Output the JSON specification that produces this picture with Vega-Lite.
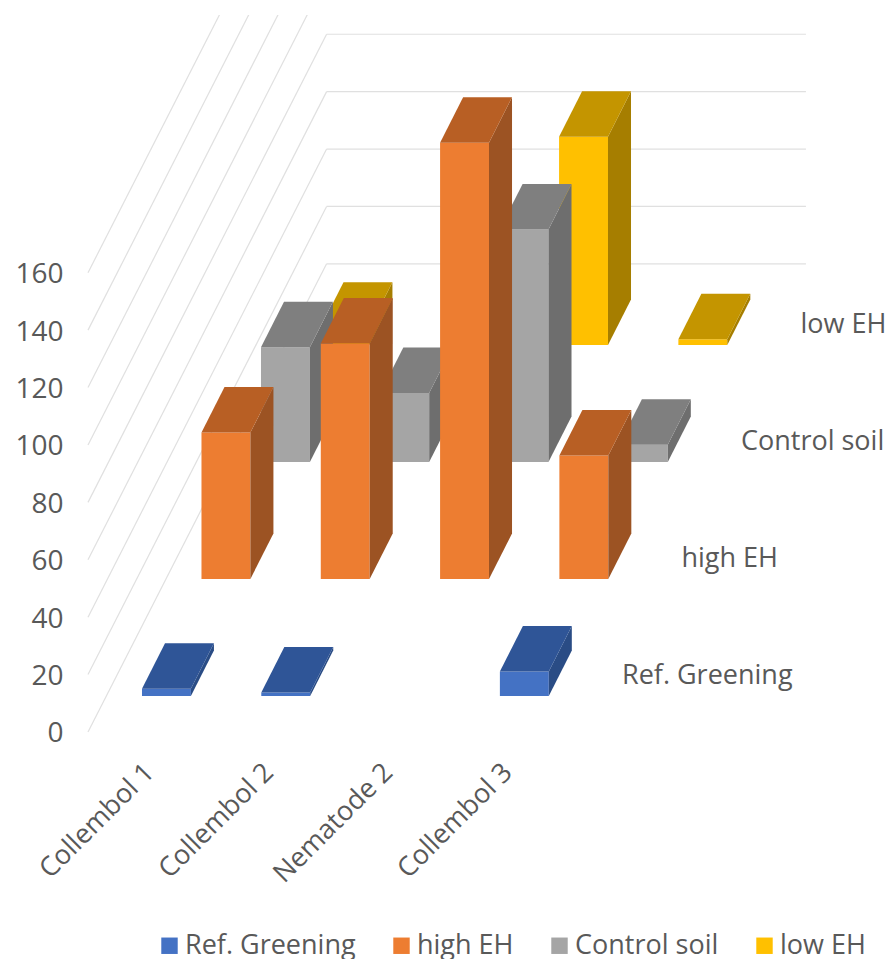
{
  "$schema": "https://vega.github.io/schema/vega-lite/v6.json",
  "width": 892,
  "height": 944,
  "padding": {"left": 0, "right": 0, "top": 15, "bottom": 0},
  "autosize": {"type": "none"},
  "background": "white",
  "config": {"view": {"stroke": null}, "font": "Open Sans"},
  "datasets": {
    "bars": [
      {"category": "Collembol 1", "slot": 0, "series": "low EH", "row": 3, "value": 6},
      {"category": "Collembol 2", "slot": 1, "series": "low EH", "row": 3, "value": 0},
      {"category": "Nematode 2", "slot": 2, "series": "low EH", "row": 3, "value": 72.5},
      {"category": "Collembol 3", "slot": 3, "series": "low EH", "row": 3, "value": 2},
      {"category": "Collembol 1", "slot": 0, "series": "Control soil", "row": 2, "value": 40},
      {"category": "Collembol 2", "slot": 1, "series": "Control soil", "row": 2, "value": 24},
      {"category": "Nematode 2", "slot": 2, "series": "Control soil", "row": 2, "value": 81},
      {"category": "Collembol 3", "slot": 3, "series": "Control soil", "row": 2, "value": 6},
      {"category": "Collembol 1", "slot": 0, "series": "high EH", "row": 1, "value": 51},
      {"category": "Collembol 2", "slot": 1, "series": "high EH", "row": 1, "value": 82},
      {"category": "Nematode 2", "slot": 2, "series": "high EH", "row": 1, "value": 152},
      {"category": "Collembol 3", "slot": 3, "series": "high EH", "row": 1, "value": 43},
      {"category": "Collembol 1", "slot": 0, "series": "Ref. Greening", "row": 0, "value": 2.5},
      {"category": "Collembol 2", "slot": 1, "series": "Ref. Greening", "row": 0, "value": 1.2},
      {"category": "Nematode 2", "slot": 2, "series": "Ref. Greening", "row": 0, "value": 0},
      {"category": "Collembol 3", "slot": 3, "series": "Ref. Greening", "row": 0, "value": 8.5}
    ],
    "ticks": [
      {"tick": 0}, {"tick": 20}, {"tick": 40}, {"tick": 60}, {"tick": 80},
      {"tick": 100}, {"tick": 120}, {"tick": 140}, {"tick": 160}
    ],
    "categories": [
      {"category": "Collembol 1", "slot": 0},
      {"category": "Collembol 2", "slot": 1},
      {"category": "Nematode 2", "slot": 2},
      {"category": "Collembol 3", "slot": 3}
    ],
    "rows": [
      {"series": "Ref. Greening", "row": 0},
      {"series": "high EH", "row": 1},
      {"series": "Control soil", "row": 2},
      {"series": "low EH", "row": 3}
    ]
  },
  "layer": [
    {
      "data": {"name": "ticks"},
      "transform": [
        {"calculate": "0", "as": "x0"},
        {"calculate": "2", "as": "x1"},
        {"calculate": "datum.tick + 163.1", "as": "yBack"}
      ],
      "mark": {"type": "rule", "color": "#e0e0e0", "strokeWidth": 1.2, "clip": true},
      "encoding": {
        "x": {"field": "x0", "type": "quantitative", "scale": {"domain": [-0.7376, 6.7394], "nice": false, "zero": false}, "axis": null},
        "x2": {"field": "x1"},
        "y": {
          "field": "tick",
          "type": "quantitative",
          "scale": {"domain": [-79.1, 249.8], "nice": false, "zero": false},
          "axis": {
            "values": [0, 20, 40, 60, 80, 100, 120, 140, 160],
            "orient": "left",
            "offset": -88,
            "domain": false,
            "ticks": false,
            "grid": false,
            "title": null,
            "labelFontSize": 28,
            "labelColor": "#595959",
            "labelPadding": 25,
            "labelOffset": 2,
            "labelFont": "Open Sans"
          }
        },
        "y2": {"field": "yBack"}
      }
    },
    {
      "data": {"name": "ticks"},
      "transform": [
        {"filter": "datum.tick <= 80"},
        {"calculate": "2", "as": "x0"},
        {"calculate": "6.018", "as": "x1"},
        {"calculate": "datum.tick + 163.1", "as": "yBack"}
      ],
      "mark": {"type": "rule", "color": "#e0e0e0", "strokeWidth": 1.2, "clip": true},
      "encoding": {
        "x": {"field": "x0", "type": "quantitative", "scale": {"domain": [-0.7376, 6.7394], "nice": false, "zero": false}, "axis": null},
        "x2": {"field": "x1"},
        "y": {"field": "yBack", "type": "quantitative", "scale": {"domain": [-79.1, 249.8], "nice": false, "zero": false}}
      }
    },
    {
      "data": {"name": "bars"},
      "transform": [
        {"filter": "datum.value > 0"},
        {"calculate": "['front','side','top']", "as": "face"},
        {"flatten": ["face"]},
        {"calculate": "[0,1,2,3]", "as": "corner"},
        {"flatten": ["corner"]},
        {"calculate": "0.4526 + datum.slot + 0.4987 * datum.row", "as": "left"},
        {"calculate": "12.54 + 40.77 * datum.row", "as": "base"},
        {"calculate": "datum.face === 'side' ? (datum.corner === 0 || datum.corner === 3 ? datum.left + 0.41 : datum.left + 0.603) : datum.face === 'front' ? (datum.corner === 0 || datum.corner === 3 ? datum.left : datum.left + 0.41) : (datum.corner === 0 ? datum.left : datum.corner === 1 ? datum.left + 0.41 : datum.corner === 2 ? datum.left + 0.603 : datum.left + 0.193)", "as": "px"},
        {"calculate": "datum.face === 'side' ? (datum.corner === 0 ? datum.base : datum.corner === 1 ? datum.base + 15.85 : datum.corner === 2 ? datum.base + datum.value + 15.85 : datum.base + datum.value) : datum.face === 'front' ? (datum.corner < 2 ? datum.base : datum.base + datum.value) : (datum.corner < 2 ? datum.base + datum.value : datum.base + datum.value + 15.85)", "as": "py"},
        {"calculate": "datum.series + (datum.face === 'front' ? '' : ' ' + datum.face)", "as": "shade"},
        {"calculate": "datum.category + '|' + datum.series + '|' + datum.face", "as": "polygon"}
      ],
      "mark": {"type": "line", "interpolate": "linear-closed", "filled": true, "strokeWidth": 0},
      "encoding": {
        "x": {"field": "px", "type": "quantitative", "scale": {"domain": [-0.7376, 6.7394], "nice": false, "zero": false}, "axis": null},
        "y": {"field": "py", "type": "quantitative", "scale": {"domain": [-79.1, 249.8], "nice": false, "zero": false}},
        "detail": {"field": "polygon"},
        "order": {"field": "corner"},
        "fill": {
          "field": "shade",
          "type": "nominal",
          "sort": null,
          "scale": {
            "domain": ["Ref. Greening", "high EH", "Control soil", "low EH", "Ref. Greening side", "high EH side", "Control soil side", "low EH side", "Ref. Greening top", "high EH top", "Control soil top", "low EH top"],
            "range": ["#4472c4", "#ed7d31", "#a5a5a5", "#ffc000", "#2a4c85", "#9c5323", "#6e6e6e", "#a67e00", "#2f5597", "#b85f24", "#7f7f7f", "#c49500"]
          },
          "legend": {
            "values": ["Ref. Greening", "high EH", "Control soil", "low EH"],
            "orient": "none",
            "legendX": 156,
            "legendY": 917,
            "direction": "horizontal",
            "columns": 4,
            "title": null,
            "symbolType": "square",
            "symbolSize": 270,
            "symbolStrokeWidth": 0,
            "labelFontSize": 27,
            "labelColor": "#595959",
            "labelFont": "Open Sans",
            "labelLimit": 400,
            "columnPadding": 32,
            "labelOffset": 2
          }
        }
      }
    },
    {
      "data": {"name": "categories"},
      "transform": [
        {"calculate": "datum.slot + 0.52", "as": "labelX"},
        {"calculate": "-12.7", "as": "labelY"}
      ],
      "mark": {"type": "text", "angle": 315, "align": "right", "baseline": "middle", "fontSize": 27, "color": "#595959", "font": "Open Sans"},
      "encoding": {
        "x": {"field": "labelX", "type": "quantitative", "scale": {"domain": [-0.7376, 6.7394], "nice": false, "zero": false}, "axis": null},
        "y": {"field": "labelY", "type": "quantitative", "scale": {"domain": [-79.1, 249.8], "nice": false, "zero": false}},
        "text": {"field": "category"}
      }
    },
    {
      "data": {"name": "rows"},
      "transform": [
        {"calculate": "4.476 + 0.4987 * datum.row", "as": "labelX"},
        {"calculate": "19.6 + 40.77 * datum.row", "as": "labelY"}
      ],
      "mark": {"type": "text", "align": "left", "baseline": "middle", "fontSize": 27, "color": "#595959", "font": "Open Sans"},
      "encoding": {
        "x": {"field": "labelX", "type": "quantitative", "scale": {"domain": [-0.7376, 6.7394], "nice": false, "zero": false}, "axis": null},
        "y": {"field": "labelY", "type": "quantitative", "scale": {"domain": [-79.1, 249.8], "nice": false, "zero": false}},
        "text": {"field": "series"}
      }
    }
  ]
}
